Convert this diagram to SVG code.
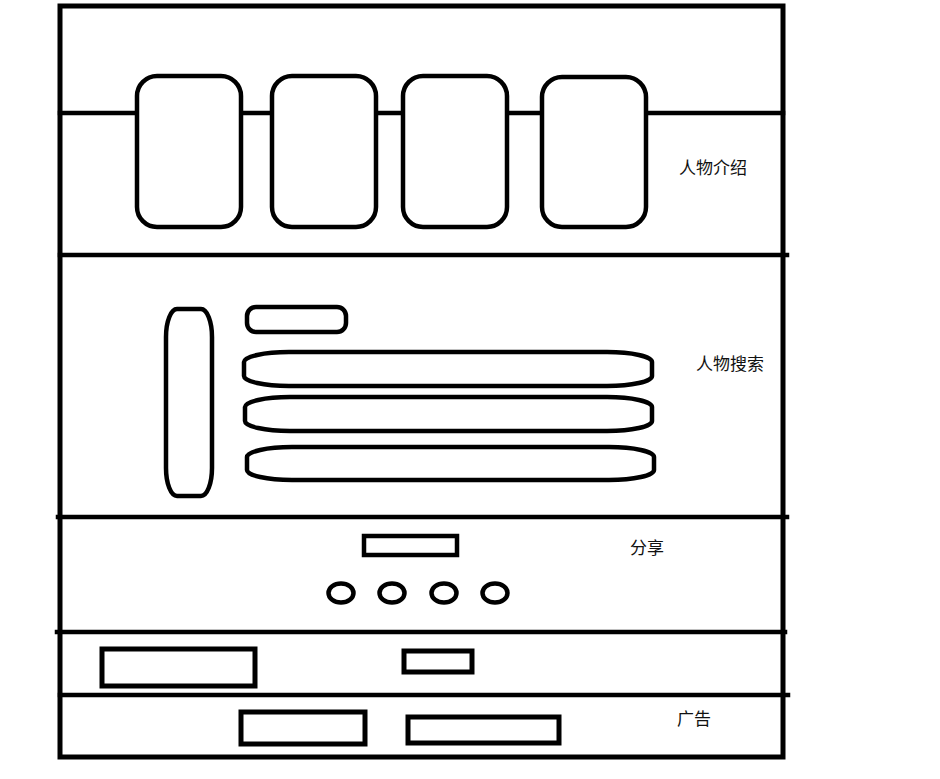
<svg xmlns="http://www.w3.org/2000/svg" width="940" height="779" viewBox="0 0 940 779">
<style>
.s{fill:#fff;stroke:#000;stroke-width:4.5}
.b{fill:#fff;stroke:#000;stroke-width:5}
.l{stroke:#000;stroke-width:4.5;fill:none;stroke-linecap:square}
.t{font-family:"Noto Sans CJK SC","Microsoft YaHei",sans-serif;font-size:17px;fill:#111}
</style>
<rect width="940" height="779" fill="#fff"/>
<g id="frame"><rect class="b" x="60" y="6" width="723" height="751"/></g>
<g id="connectors">
<path class="l" d="M60 113H137M240 113H272M374 113H403M505 113H542M646 113H783"/>
<path class="l" d="M60 255H787"/>
<path class="l" d="M58 517H787"/>
<path class="l" d="M57 632H785"/>
<path class="l" d="M60 695H788"/>
</g>
<g id="cards">
<rect class="s" x="137" y="76" width="104" height="151" rx="20"/>
<rect class="s" x="272" y="76" width="104" height="151" rx="20"/>
<rect class="s" x="403" y="76" width="104" height="151" rx="20"/>
<rect class="s" x="542" y="77" width="104" height="150" rx="20"/>
</g>
<g id="label-intro"><text class="t" x="679" y="174">人物介绍</text></g>
<g id="search">
<rect class="s" x="166" y="309" width="46" height="187" rx="11" ry="28"/>
<rect class="s" x="247" y="307" width="99" height="25" rx="9"/>
<rect class="s" x="244" y="352" width="408" height="34" rx="45" ry="10"/>
<rect class="s" x="245" y="397" width="407" height="34" rx="45" ry="10"/>
<rect class="s" x="247" y="447" width="407" height="33" rx="45" ry="10"/>
</g>
<g id="label-search"><text class="t" x="696" y="370">人物搜索</text></g>
<g id="share">
<rect class="s" x="364" y="536" width="93" height="19"/>
<ellipse class="s" cx="341" cy="593" rx="12.5" ry="9.5"/>
<ellipse class="s" cx="392" cy="593" rx="12.5" ry="9.5"/>
<ellipse class="s" cx="444" cy="593" rx="12.5" ry="9.5"/>
<ellipse class="s" cx="495" cy="593" rx="12.5" ry="9.5"/>
</g>
<g id="label-share"><text class="t" x="630" y="554">分享</text></g>
<g id="row4">
<rect class="b" x="102" y="649" width="153" height="37"/>
<rect class="b" x="404" y="651" width="68" height="21"/>
</g>
<g id="ads">
<rect class="b" x="241" y="712" width="124" height="32"/>
<rect class="b" x="408" y="717" width="151" height="26"/>
</g>
<g id="label-ads"><text class="t" x="677" y="725">广告</text></g>
</svg>
